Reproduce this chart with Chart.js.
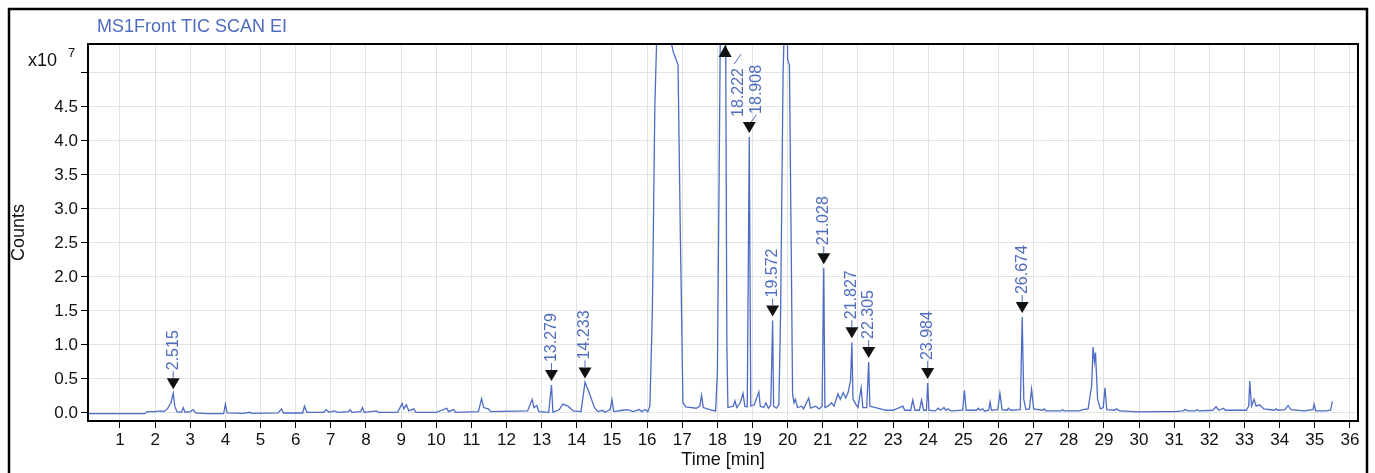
<!DOCTYPE html>
<html>
<head>
<meta charset="utf-8">
<title>MS1Front TIC SCAN EI</title>
<script src="https://cdn.jsdelivr.net/npm/chart.js@4.4.1/dist/chart.umd.min.js"></script>
<style>
  html, body { margin: 0; padding: 0; background: #fff; overflow: hidden; }
  #wrap { position: absolute; left: 0; top: 0; width: 1375px; height: 473px; }
</style>
</head>
<body>
<div id="wrap"><canvas id="tic" width="1375" height="473"></canvas></div>
<script>
// retention time (min) and total ion counts (x10^7)
const times = [
  0.09, 1.0, 1.7, 1.78, 2.0, 2.15, 2.25, 2.35, 2.45, 2.515, 2.56, 2.62, 2.75, 2.8, 2.85,
  3.0, 3.08, 3.15, 3.5, 3.95, 4.0, 4.05, 4.5, 4.7, 4.75, 5.5, 5.6, 5.65, 6.2, 6.25,
  6.32, 6.8, 6.87, 6.95, 7.1, 7.2, 7.5, 7.55, 7.6, 7.85, 7.9, 7.95, 8.3, 8.35, 8.9,
  9.03, 9.08, 9.15, 9.22, 9.36, 9.42, 10.0, 10.3, 10.35, 10.5, 10.55, 11.2, 11.29, 11.35,
  11.48, 11.55, 12.6, 12.73, 12.78, 12.86, 12.92, 13.2, 13.279, 13.32, 13.5, 13.6, 13.75, 13.9,
  14.12, 14.233, 14.35, 14.5, 14.6, 14.73, 14.8, 14.95, 15.0, 15.05, 15.3, 15.45, 15.6, 15.78,
  15.85, 15.94, 16.02, 16.08, 16.15, 16.22, 16.3, 16.55, 16.62, 16.75, 16.88, 16.95, 17.02, 17.1,
  17.4, 17.5, 17.55, 17.6, 17.85, 17.95, 18.0, 18.05, 18.09, 18.2, 18.222, 18.24, 18.27, 18.3,
  18.45, 18.5, 18.55, 18.65, 18.73, 18.78, 18.85, 18.908, 18.95, 19.05, 19.18, 19.22, 19.32, 19.38,
  19.45, 19.52, 19.572, 19.6, 19.68, 19.75, 19.8, 19.87, 19.92, 19.98, 20.0, 20.05, 20.1, 20.14,
  20.18, 20.22, 20.28, 20.4, 20.45, 20.6, 20.65, 20.8, 20.9, 20.98, 21.028, 21.06, 21.15, 21.25,
  21.32, 21.43, 21.5, 21.58, 21.65, 21.72, 21.79, 21.827, 21.86, 21.95, 22.0, 22.09, 22.14, 22.25,
  22.305, 22.34, 22.5, 22.8, 23.0, 23.28, 23.33, 23.5, 23.56, 23.62, 23.75, 23.81, 23.87, 23.95,
  23.984, 24.02, 24.2, 24.28, 24.35, 24.45, 24.5, 24.56, 24.65, 24.98, 25.03, 25.08, 25.38, 25.43,
  25.48, 25.55, 25.6, 25.72, 25.76, 25.8, 25.98, 26.04, 26.1, 26.25, 26.28, 26.35, 26.62, 26.674,
  26.72, 26.78, 26.88, 26.94, 27.0, 27.25, 27.3, 27.35, 27.78, 27.82, 27.86, 28.3, 28.4, 28.55,
  28.65, 28.69, 28.73, 28.76, 28.82, 28.9, 28.98, 29.03, 29.08, 29.3, 29.36, 29.45, 30.0, 30.5,
  31.0, 31.25, 31.3, 31.4, 31.6, 31.65, 31.7, 32.1, 32.19, 32.27, 32.4, 32.46, 33.05, 33.12,
  33.15, 33.2, 33.27, 33.33, 33.43, 33.55, 33.85, 33.9, 33.95, 34.15, 34.24, 34.32, 34.7, 34.95,
  34.98, 35.03, 35.3, 35.45, 35.5
];
const counts = [
  -0.01, -0.01, -0.01, 0.02, 0.02, 0.03, 0.02, 0.06, 0.15, 0.29, 0.1, 0.02, 0.01, 0.08, 0.01,
  0.02, 0.05, 0.0, -0.01, -0.01, 0.13, 0.0, -0.005, 0.01, -0.005, 0.0, 0.06, 0.0, 0.0, 0.1,
  0.01, 0.01, 0.05, 0.01, 0.03, 0.01, 0.02, 0.05, 0.01, 0.02, 0.08, 0.01, 0.03, 0.01, 0.01,
  0.14, 0.06, 0.12, 0.03, 0.06, 0.01, 0.01, 0.07, 0.02, 0.05, 0.01, 0.02, 0.21, 0.08,
  0.06, 0.02, 0.03, 0.2, 0.08, 0.11, 0.02, 0.01, 0.41, 0.01, 0.05, 0.13, 0.1, 0.03,
  0.02, 0.45, 0.3, 0.08, 0.02, 0.04, 0.01, 0.05, 0.2, 0.02, 0.04, 0.05, 0.02, 0.05,
  0.02, 0.05, 0.02, 0.1, 1.5, 4.5, 6.0, 6.5, 5.6, 5.3, 5.12, 2.5, 0.15, 0.09,
  0.07, 0.1, 0.26, 0.08, 0.04, 0.03, 0.6, 3.5, 6.0, 6.5, 6.5, 5.0, 1.0, 0.08,
  0.1, 0.18, 0.08, 0.15, 0.29, 0.1, 0.09, 4.06, 0.1, 0.12, 0.31, 0.1, 0.08, 0.15,
  0.07, 0.12, 1.36, 0.1, 0.07, 0.12, 1.5, 5.0, 6.0, 6.0, 5.2, 5.12, 2.5, 0.28,
  0.15, 0.2, 0.08, 0.1, 0.06, 0.22, 0.07, 0.1, 0.06, 0.1, 2.13, 0.08, 0.1, 0.15,
  0.1, 0.28, 0.2, 0.3, 0.22, 0.3, 0.48, 1.04, 0.2, 0.12, 0.08, 0.37, 0.08, 0.08,
  0.75, 0.1, 0.08, 0.04, 0.04, 0.1, 0.04, 0.04, 0.19, 0.04, 0.04, 0.19, 0.04, 0.04,
  0.44, 0.04, 0.03, 0.07, 0.04, 0.08, 0.04, 0.06, 0.03, 0.04, 0.33, 0.04, 0.04, 0.07,
  0.04, 0.06, 0.03, 0.04, 0.16, 0.04, 0.05, 0.29, 0.05, 0.04, 0.07, 0.04, 0.05, 1.41,
  0.2, 0.05, 0.06, 0.35, 0.06, 0.04, 0.06, 0.03, 0.03, 0.05, 0.03, 0.03, 0.05, 0.06,
  0.4, 0.97, 0.75, 0.89, 0.2, 0.06, 0.08, 0.37, 0.05, 0.04, 0.06, 0.03, 0.015, 0.02,
  0.02, 0.03, 0.05, 0.03, 0.03, 0.05, 0.03, 0.04, 0.09, 0.04, 0.07, 0.04, 0.04, 0.1,
  0.47, 0.1, 0.2, 0.1, 0.12, 0.06, 0.04, 0.06, 0.04, 0.05, 0.11, 0.05, 0.03, 0.05,
  0.13, 0.03, 0.03, 0.04, 0.17
];

// labelled peaks (retention times)
const peakTimes = [2.515, 13.279, 14.233, 18.222, 18.908, 19.572, 21.028, 21.827, 22.305, 23.984, 26.674];
const peakLabels = ['2.515', '13.279', '14.233', '18.222', '18.908', '19.572', '21.028', '21.827', '22.305', '23.984', '26.674'];

// axis ticks
const xTicks = [1, 2, 3, 4, 5, 6, 7, 8, 9, 10, 11, 12, 13, 14, 15, 16, 17, 18, 19, 20, 21, 22, 23, 24, 25, 26, 27, 28, 29, 30, 31, 32, 33, 34, 35, 36];
const yTicks = [0, 0.5, 1.0, 1.5, 2.0, 2.5, 3.0, 3.5, 4.0, 4.5, 5.0];
const yTickLabels = ['0.0', '0.5', '1.0', '1.5', '2.0', '2.5', '3.0', '3.5', '4.0', '4.5', ''];

const FONT = "'Liberation Sans', Arial, sans-serif";
const BLUE_TEXT = '#4f6cbf';

// frame, titles and peak markers
const decorations = {
  id: 'decorations',
  beforeDraw(chart) {
    const ctx = chart.ctx;
    ctx.save();
    ctx.fillStyle = '#fff';
    ctx.fillRect(0, 0, chart.width, chart.height);
    ctx.strokeStyle = '#000';
    ctx.lineWidth = 2.5;
    ctx.beginPath();
    ctx.moveTo(9, chart.height + 5);
    ctx.lineTo(9, 9);
    ctx.lineTo(1367, 9);
    ctx.lineTo(1367, chart.height + 5);
    ctx.stroke();
    ctx.restore();
  },
  afterDatasetsDraw(chart, args, opts) {
    const ctx = chart.ctx;
    const x = chart.scales.x, y = chart.scales.y;
    const area = chart.chartArea;
    ctx.save();
    ctx.font = '16px ' + FONT;
    ctx.textBaseline = 'middle';
    ctx.textAlign = 'left';
    peakTimes.forEach((t, i) => {
      const v = counts[times.indexOf(t)];
      const px = x.getPixelForValue(t);
      const label = peakLabels[i];
      const dx = opts.shift[label] || 0;
      ctx.fillStyle = '#111';
      ctx.strokeStyle = BLUE_TEXT;
      ctx.lineWidth = 1;
      if (v > y.max) {
        // off-scale peak: up triangle on the top edge, label beside it
        const top = area.top;
        ctx.beginPath();
        ctx.moveTo(px, top + 1);
        ctx.lineTo(px - 6.5, top + 13);
        ctx.lineTo(px + 6.5, top + 13);
        ctx.closePath();
        ctx.fill();
        ctx.beginPath();
        ctx.moveTo(px + 9, top + 20);
        ctx.lineTo(px + 16, top + 10);
        ctx.stroke();
        ctx.save();
        ctx.translate(px + 13, top + 73);
        ctx.rotate(-Math.PI / 2);
        ctx.fillStyle = BLUE_TEXT;
        ctx.fillText(label, 0, 0);
        ctx.restore();
        return;
      }
      const tip = y.getPixelForValue(v) - 4;
      const triTop = tip - 11;
      ctx.beginPath();
      ctx.moveTo(px, tip);
      ctx.lineTo(px - 6.5, triTop);
      ctx.lineTo(px + 6.5, triTop);
      ctx.closePath();
      ctx.fill();
      ctx.beginPath();
      ctx.moveTo(px + (dx ? 2 : 0), triTop);
      ctx.lineTo(px + dx, triTop - 7);
      ctx.stroke();
      ctx.save();
      ctx.translate(px + dx, triTop - 8);
      ctx.rotate(-Math.PI / 2);
      ctx.fillStyle = BLUE_TEXT;
      ctx.fillText(label, 0, 0);
      ctx.restore();
    });
    ctx.restore();
  },
  afterDraw(chart) {
    const ctx = chart.ctx;
    const area = chart.chartArea;
    ctx.save();
    // plot box
    ctx.strokeStyle = '#000';
    ctx.lineWidth = 2;
    ctx.strokeRect(area.left, area.top, area.right - area.left, area.bottom - area.top);
    // title
    ctx.fillStyle = BLUE_TEXT;
    ctx.font = '18px ' + FONT;
    ctx.textAlign = 'left';
    ctx.textBaseline = 'middle';
    ctx.fillText('MS1Front TIC SCAN EI', 97, 27);
    // multiplier
    ctx.fillStyle = '#111';
    ctx.font = '18px ' + FONT;
    ctx.fillText('x10', 28, 61);
    ctx.font = '13px ' + FONT;
    ctx.fillText('7', 68, 53);
    // axis titles
    ctx.font = '18px ' + FONT;
    ctx.textAlign = 'center';
    ctx.fillText('Time [min]', (area.left + area.right) / 2, 460);
    ctx.save();
    ctx.translate(19, (area.top + area.bottom) / 2);
    ctx.rotate(-Math.PI / 2);
    ctx.fillText('Counts', 0, 0);
    ctx.restore();
    ctx.restore();
  }
};

new Chart(document.getElementById('tic'), {
  type: 'line',
  data: {
    datasets: [{
      data: times.map((t, i) => ({ x: t, y: counts[i] })),
      borderColor: '#4e6cc6',
      borderWidth: 1.3,
      pointRadius: 0,
      tension: 0,
      fill: false
    }]
  },
  options: {
    responsive: false,
    animation: false,
    events: [],
    layout: { padding: { left: 0, top: 44, right: 17, bottom: 0 } },
    plugins: {
      legend: { display: false },
      tooltip: { enabled: false },
      decorations: { shift: { '18.908': 7 } }
    },
    scales: {
      x: {
        type: 'linear',
        min: 0.09,
        max: 36.23,
        afterBuildTicks: s => { s.ticks = xTicks.map(v => ({ value: v })); },
        afterFit: s => { s.height = 52; },
        grid: { color: '#e2e2e2', tickColor: '#000', tickLength: 7, lineWidth: 1 },
        border: { display: false },
        ticks: { color: '#111', padding: 2, maxRotation: 0, autoSkip: false, font: { family: FONT, size: 17 } }
      },
      y: {
        type: 'linear',
        min: -0.118,
        max: 5.426,
        afterBuildTicks: s => { s.ticks = yTicks.map(v => ({ value: v })); },
        afterFit: s => { s.width = 88; },
        grid: { color: '#e2e2e2', tickColor: '#000', tickLength: 7, lineWidth: 1 },
        border: { display: false },
        ticks: {
          color: '#111', padding: 3, autoSkip: false, font: { family: FONT, size: 17 },
          callback: (value, index) => yTickLabels[index]
        }
      }
    }
  },
  plugins: [decorations]
});
</script>
</body>
</html>
